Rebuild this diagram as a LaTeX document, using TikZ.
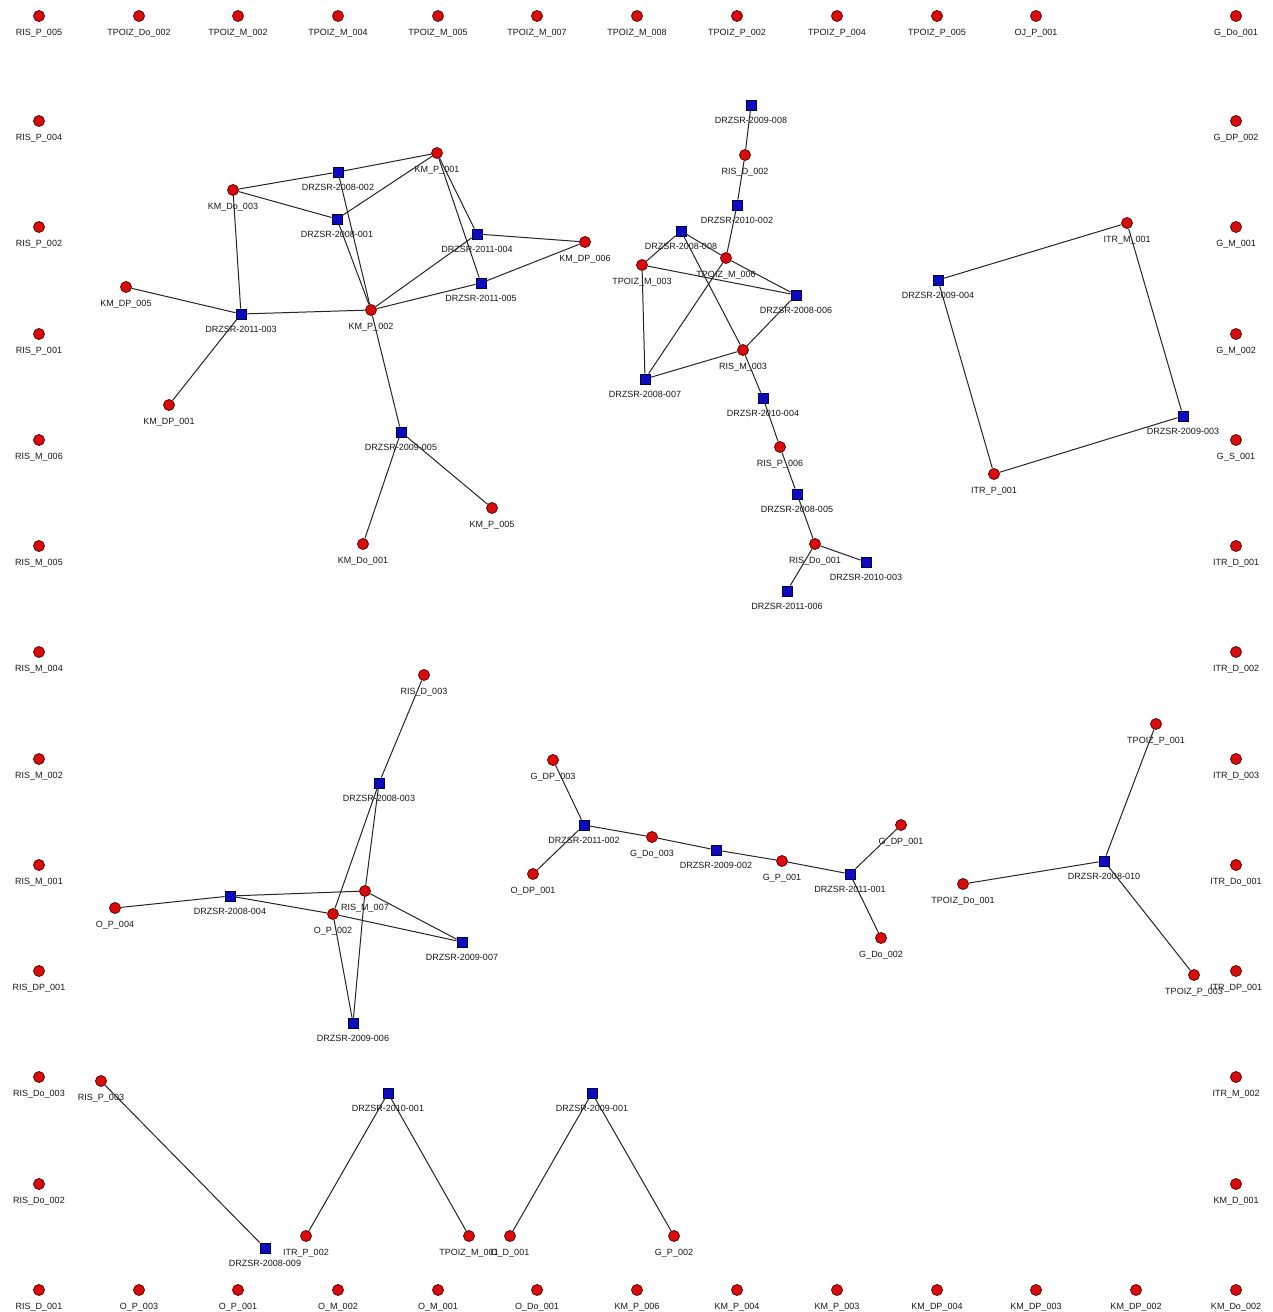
\documentclass[tikz,border=0pt]{standalone}
\usepackage{fontspec}
\setmainfont{Liberation Sans}
\definecolor{dotred}{RGB}{215,12,12}
\definecolor{dotrim}{RGB}{105,0,0}
\definecolor{sqblue}{RGB}{12,12,190}
\definecolor{sqrim}{RGB}{0,0,70}
\tikzset{
  lbl/.style={font=\fontsize{9}{10}\selectfont, inner sep=0.5pt, text=black!90, yshift=-6.5pt},
  rdot/.style={circle, draw=dotrim, fill=dotred, line width=0.8pt, minimum size=11pt, inner sep=0pt,
    label={[lbl]below:#1}},
  bsq/.style={rectangle, draw=sqrim, fill=sqblue, line width=0.8pt, minimum size=10pt, inner sep=0pt,
    label={[lbl]below:#1}},
  link/.style={draw=black!85, line width=1pt},
}
\begin{document}
\begin{tikzpicture}[x=1pt, y=-1pt]
  \useasboundingbox[fill=white] (0,0) rectangle (1273,1312);
  % isolated nodes round the border
  \foreach \px/\txt [count=\i] in {39/RIS\_P\_005, 139/TPOIZ\_Do\_002, 238/TPOIZ\_M\_002, 338/TPOIZ\_M\_004,
      438/TPOIZ\_M\_005, 537/TPOIZ\_M\_007, 637/TPOIZ\_M\_008, 737/TPOIZ\_P\_002, 837/TPOIZ\_P\_004,
      937/TPOIZ\_P\_005, 1036/OJ\_P\_001, 1236/G\_Do\_001}
    \node[rdot=\txt] (top\i) at (\px,16) {};
  \foreach \py/\txt [count=\i] in {121/RIS\_P\_004, 227/RIS\_P\_002, 334/RIS\_P\_001, 440/RIS\_M\_006,
      546/RIS\_M\_005, 652/RIS\_M\_004, 759/RIS\_M\_002, 865/RIS\_M\_001, 971/RIS\_DP\_001,
      1077/RIS\_Do\_003, 1184/RIS\_Do\_002}
    \node[rdot=\txt] (left\i) at (39,\py) {};
  \foreach \px/\txt [count=\i] in {39/RIS\_D\_001, 139/O\_P\_003, 238/O\_P\_001, 338/O\_M\_002, 438/O\_M\_001,
      537/O\_Do\_001, 637/KM\_P\_006, 737/KM\_P\_004, 837/KM\_P\_003, 937/KM\_DP\_004, 1036/KM\_DP\_003,
      1136/KM\_DP\_002, 1236/KM\_Do\_002}
    \node[rdot=\txt] (bot\i) at (\px,1290) {};
  \foreach \py/\txt [count=\i] in {121/G\_DP\_002, 227/G\_M\_001, 334/G\_M\_002, 440/G\_S\_001, 546/ITR\_D\_001,
      652/ITR\_D\_002, 759/ITR\_D\_003, 865/ITR\_Do\_001, 971/ITR\_DP\_001, 1077/ITR\_M\_002, 1184/KM\_D\_001}
    \node[rdot=\txt] (right\i) at (1236,\py) {};

  % KM group
  \node[rdot=KM\_Do\_003] (kmdo003) at (233,190) {};
  \node[bsq=DRZSR-2008-002] (d08-002) at (338,172) {};
  \node[rdot=KM\_P\_001] (kmp001) at (437,153) {};
  \node[bsq=DRZSR-2008-001] (d08-001) at (337,219) {};
  \node[bsq=DRZSR-2011-004] (d11-004) at (477,234) {};
  \node[rdot=KM\_DP\_006] (kmdp006) at (585,242) {};
  \node[bsq=DRZSR-2011-005] (d11-005) at (481,283) {};
  \node[rdot=KM\_DP\_005] (kmdp005) at (126,287) {};
  \node[bsq=DRZSR-2011-003] (d11-003) at (241,314) {};
  \node[rdot=KM\_P\_002] (kmp002) at (371,310) {};
  \node[rdot=KM\_DP\_001] (kmdp001) at (169,405) {};
  \node[bsq=DRZSR-2009-005] (d09-005) at (401,432) {};
  \node[rdot=KM\_P\_005] (kmp005) at (492,508) {};
  \node[rdot=KM\_Do\_001] (kmdo001) at (363,544) {};

  % RIS / TPOIZ group
  \node[bsq=DRZSR-2009-008] (d09-008) at (751,105) {};
  \node[rdot=RIS\_D\_002] (risd002) at (745,155) {};
  \node[bsq=DRZSR-2010-002] (d10-002) at (737,205) {};
  \node[bsq=DRZSR-2008-008] (d08-008) at (681,231) {};
  \node[rdot=TPOIZ\_M\_003] (tpm003) at (642,265) {};
  \node[rdot=TPOIZ\_M\_006] (tpm006) at (726,258) {};
  \node[bsq=DRZSR-2008-006] (d08-006) at (796,295) {};
  \node[rdot=RIS\_M\_003] (rism003) at (743,350) {};
  \node[bsq=DRZSR-2008-007] (d08-007) at (645,379) {};
  \node[bsq=DRZSR-2010-004] (d10-004) at (763,398) {};
  \node[rdot=RIS\_P\_006] (risp006) at (780,447) {};
  \node[bsq=DRZSR-2008-005] (d08-005) at (797,494) {};
  \node[rdot=RIS\_Do\_001] (risdo001) at (815,544) {};
  \node[bsq=DRZSR-2010-003] (d10-003) at (866,562) {};
  \node[bsq=DRZSR-2011-006] (d11-006) at (787,591) {};

  % ITR square
  \node[rdot=ITR\_M\_001] (itrm001) at (1127,223) {};
  \node[bsq=DRZSR-2009-004] (d09-004) at (938,280) {};
  \node[bsq=DRZSR-2009-003] (d09-003) at (1183,416) {};
  \node[rdot=ITR\_P\_001] (itrp001) at (994,474) {};

  % O / RIS star
  \node[rdot=RIS\_D\_003] (risd003) at (424,675) {};
  \node[bsq=DRZSR-2008-003] (d08-003) at (379,783) {};
  \node[bsq=DRZSR-2008-004] (d08-004) at (230,896) {};
  \node[rdot=O\_P\_004] (op004) at (115,908) {};
  \node[rdot=RIS\_M\_007] (rism007) at (365,891) {};
  \node[rdot=O\_P\_002] (op002) at (333,914) {};
  \node[bsq=DRZSR-2009-007] (d09-007) at (462,942) {};
  \node[bsq=DRZSR-2009-006] (d09-006) at (353,1023) {};

  % G chain
  \node[rdot=G\_DP\_003] (gdp003) at (553,760) {};
  \node[bsq=DRZSR-2011-002] (d11-002) at (584,825) {};
  \node[rdot=O\_DP\_001] (odp001) at (533,874) {};
  \node[rdot=G\_Do\_003] (gdo003) at (652,837) {};
  \node[bsq=DRZSR-2009-002] (d09-002) at (716,850) {};
  \node[rdot=G\_P\_001] (gp001) at (782,861) {};
  \node[bsq=DRZSR-2011-001] (d11-001) at (850,874) {};
  \node[rdot=G\_DP\_001] (gdp001) at (901,825) {};
  \node[rdot=G\_Do\_002] (gdo002) at (881,938) {};

  % TPOIZ star
  \node[rdot=TPOIZ\_P\_001] (tpp001) at (1156,724) {};
  \node[bsq=DRZSR-2008-010] (d08-010) at (1104,861) {};
  \node[rdot=TPOIZ\_Do\_001] (tpdo001) at (963,884) {};
  \node[rdot=TPOIZ\_P\_003] (tpp003) at (1194,975) {};

  % bottom pairs
  \node[rdot=RIS\_P\_003] (risp003) at (101,1081) {};
  \node[bsq=DRZSR-2008-009] (d08-009) at (265,1248) {};
  \node[rdot=ITR\_P\_002] (itrp002) at (306,1236) {};
  \node[bsq=DRZSR-2010-001] (d10-001) at (388,1093) {};
  \node[rdot=TPOIZ\_M\_001] (tpm001) at (469,1236) {};
  \node[rdot=O\_D\_001] (od001) at (510,1236) {};
  \node[bsq=DRZSR-2009-001] (d09-001) at (592,1093) {};
  \node[rdot=G\_P\_002] (gp002) at (674,1236) {};

  % links
  \foreach \a/\b in {kmdo003/d08-002, d08-002/kmp001, kmdo003/d08-001, d08-001/kmp001, d08-002/kmp002,
      d08-001/kmp002, kmdo003/d11-003, kmdp005/d11-003, d11-003/kmp002, d11-003/kmdp001, kmp001/d11-004,
      kmp001/d11-005, d11-004/kmdp006, d11-005/kmdp006, kmp002/d11-004, kmp002/d11-005, kmp002/d09-005,
      d09-005/kmdo001, d09-005/kmp005,
      d09-008/risd002, risd002/d10-002, d10-002/tpm006, d08-008/tpm003, d08-008/tpm006, d08-008/rism003,
      tpm003/d08-006, tpm006/d08-006, tpm003/d08-007, tpm006/d08-007, d08-006/rism003, rism003/d08-007,
      rism003/d10-004, d10-004/risp006, risp006/d08-005, d08-005/risdo001, risdo001/d10-003, risdo001/d11-006,
      itrm001/d09-004, itrm001/d09-003, d09-004/itrp001, itrp001/d09-003,
      risd003/d08-003, d08-003/op002, d08-003/rism007, op004/d08-004, d08-004/rism007, d08-004/op002,
      rism007/d09-007, op002/d09-007, op002/d09-006, rism007/d09-006,
      gdp003/d11-002, odp001/d11-002, d11-002/gdo003, gdo003/d09-002, d09-002/gp001, gp001/d11-001,
      d11-001/gdp001, d11-001/gdo002,
      d08-010/tpp001, d08-010/tpdo001, d08-010/tpp003,
      risp003/d08-009, itrp002/d10-001, d10-001/tpm001, od001/d09-001, d09-001/gp002}
    \draw[link] (\a) -- (\b);
\end{tikzpicture}
\end{document}
